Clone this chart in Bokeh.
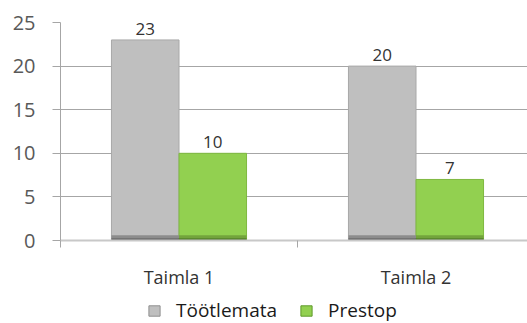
from bokeh.plotting import figure
from bokeh.layouts import column
from bokeh.models import Range1d, FixedTicker, Legend, LegendItem, ColumnDataSource
from bokeh.core.properties import value
from bokeh.embed import file_html
from bokeh.resources import INLINE

categories = ["Taimla 1", "Taimla 2"]
series_names = ["Töötlemata", "Prestop"]
tootlemata = [23, 20]
prestop = [10, 7]
y_ticks = [0, 5, 10, 15, 20, 25]
series_colors = ["#bfbfbf", "#92d050"]
series_edges = ["#8f8f8f", "#5f9a2a"]

FONT = "Open Sans"
BW = 0.285
centers = [i + 0.5 for i in range(len(categories))]

p = figure(frame_width=467, frame_height=218, x_range=Range1d(0, 467 / 237), y_range=Range1d(0, 25),
           output_backend="svg", toolbar_location=None,
           min_border_left=60, min_border_right=0, min_border_top=22, min_border_bottom=55)
p.outline_line_color = None
p.background_fill_color = "white"
p.border_fill_color = "white"

# series
s1 = ColumnDataSource(dict(left=[c - BW for c in centers], right=centers, top=tootlemata,
                           lab=[str(v) for v in tootlemata], xc=[c - BW / 2 for c in centers]))
s2 = ColumnDataSource(dict(left=centers, right=[c + BW for c in centers], top=prestop,
                           lab=[str(v) for v in prestop], xc=[c + BW / 2 for c in centers]))

p.quad(left="left", right="right", bottom=0, top="top", source=s1,
       fill_color=series_colors[0], line_color="#a8a8a8", line_width=1)
p.quad(left="left", right="right", bottom=0, top="top", source=s2,
       fill_color=series_colors[1], line_color="#7fb840", line_width=1)
# bottom shading
p.quad(left="left", right="right", bottom=0.25, top=0.6, source=s1, fill_color="#8c8c8c", line_color=None)
p.quad(left="left", right="right", bottom=0, top=0.25, source=s1, fill_color="#5f5f5f", line_color=None)
p.quad(left="left", right="right", bottom=0.25, top=0.6, source=s2, fill_color="#73a43c", line_color=None)
p.quad(left="left", right="right", bottom=0, top=0.25, source=s2, fill_color="#4d7526", line_color=None)

for s in (s1, s2):
    p.text(x="xc", y="top", text="lab", source=s, text_align="center", text_baseline="bottom",
           y_offset=-5, text_font=value(FONT), text_font_size="17px", text_color="#333333")

# y axis
p.yaxis.ticker = FixedTicker(ticks=y_ticks)
p.yaxis.axis_line_color = "#a6a6a6"
p.yaxis.major_tick_line_color = "#a6a6a6"
p.yaxis.major_tick_out = 8
p.yaxis.major_tick_in = 0
p.yaxis.minor_tick_line_color = None
p.yaxis.major_label_standoff = 17
p.yaxis.major_label_text_font = FONT
p.yaxis.major_label_text_font_size = "20px"
p.yaxis.major_label_text_color = "#595959"

p.ygrid.ticker = FixedTicker(ticks=y_ticks[1:])
p.ygrid.grid_line_color = "#a6a6a6"
p.xgrid.grid_line_color = None

# x axis
p.xaxis.ticker = FixedTicker(ticks=centers, minor_ticks=[0, 1, 2])
p.xaxis.major_label_overrides = {c: lab for c, lab in zip(centers, categories)}
p.xaxis.axis_line_color = "#c8c8c8"
p.xaxis.axis_line_width = 2
p.xaxis.major_tick_line_color = None
p.xaxis.major_tick_out = 0
p.xaxis.major_tick_in = 0
p.xaxis.minor_tick_line_color = "#a6a6a6"
p.xaxis.minor_tick_out = 7
p.xaxis.minor_tick_in = 0
p.xaxis.major_label_standoff = 17
p.xaxis.major_label_text_font = FONT
p.xaxis.major_label_text_font_size = "18px"
p.xaxis.major_label_text_color = "#333333"

# legend strip
lg = figure(frame_width=527, frame_height=28, x_range=Range1d(0, 527), y_range=Range1d(0, 28),
            output_backend="svg", toolbar_location=None,
            min_border_left=0, min_border_right=0, min_border_top=0, min_border_bottom=0)
lg.axis.visible = False
lg.grid.grid_line_color = None
lg.outline_line_color = None
lg.border_fill_color = "white"
nan = float("nan")
dummy = ColumnDataSource(dict(left=[nan], right=[nan], top=[nan], bottom=[nan]))
rs = [lg.quad(left="left", right="right", top="top", bottom="bottom", source=dummy,
              fill_color=c, line_color=e) for c, e in zip(series_colors, series_edges)]
legend = Legend(items=[LegendItem(label=n, renderers=[r]) for n, r in zip(series_names, rs)],
                orientation="horizontal", location=(147, 0),
                label_text_font=FONT, label_text_font_size="19px", label_text_color="#1a1a1a",
                glyph_width=14, glyph_height=13, label_standoff=15, spacing=22,
                padding=0, margin=0, border_line_color=None, background_fill_alpha=0)
lg.add_layout(legend, "center")

layout = column(p, lg, spacing=0)
open("out.html", "w").write(file_html(layout, INLINE))
